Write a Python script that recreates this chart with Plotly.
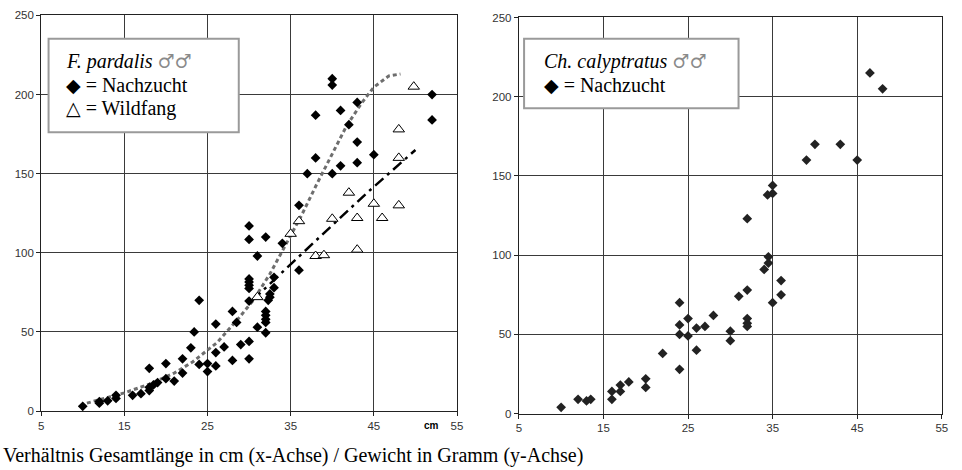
import plotly.graph_objects as go

# ---------------- data ----------------
# F. pardalis, Nachzucht (captive bred)
pard_nz_len = [10, 12, 12, 13, 14, 14, 16, 17, 18, 18, 18.5, 19, 18, 20, 20, 21, 22, 22, 23, 23.4,
               24, 24, 25, 25, 26, 26, 26, 27, 28, 28, 28.5, 29, 30, 30, 30, 30, 30, 30, 30, 30,
               30, 31, 31, 32, 32, 32, 32, 32, 32.3, 32.5, 32.5, 33, 33, 32, 34, 36, 36, 37, 38, 38,
               40, 40, 40, 41, 41, 42, 43, 43, 43, 45, 52, 52]
pard_nz_wt = [3, 5, 6, 6.5, 8, 10, 10, 11, 13, 15, 16.5, 18, 27, 20.5, 30, 19, 24, 33, 40, 50,
              70, 29.5, 25, 30, 28.5, 37, 55, 40.5, 32, 63, 56, 42, 44, 33, 69.5, 77.5, 79.5, 81.5, 83.5, 108.5,
              117, 53, 98, 49.5, 56, 58, 60.5, 63, 70, 72, 74, 78, 84.5, 110, 106, 89, 130, 150, 160, 187,
              150, 206, 210, 155, 190, 181, 157, 170, 195, 162, 184, 200]

# F. pardalis, Wildfang (wild caught)
pard_wf_len = [31, 35, 36, 38, 39, 40, 42, 43, 43, 45, 46, 48, 48, 48, 49.8]
pard_wf_wt = [72, 112, 120, 98, 98.5, 121.5, 138, 102, 122, 131, 122, 130, 160, 178, 205]

# trend lines
pard_nz_trend_len = [10.5, 13, 15, 18, 21, 23.2, 26.2, 28.8, 30.5, 32.5, 34, 36.3, 38.1, 40.1, 41.7,
                     43.5, 45, 46.8, 48.2]
pard_nz_trend_wt = [5, 8.5, 11.5, 17, 24, 31, 43.5, 59, 70, 86.6, 101, 123.6, 143, 163.6, 180,
                    194.4, 204.7, 211.8, 213]
pard_wf_trend_len = [30.4, 34.5, 38.9, 44.2, 50]
pard_wf_trend_wt = [70, 90, 112, 138, 165]

# Ch. calyptratus, Nachzucht
caly_len = [10, 12, 13, 13.5, 16, 16, 17, 17, 18, 20, 20, 22, 24, 24, 24, 24, 25, 25, 26, 27,
            26, 28, 30, 30, 31, 32, 32, 32, 32, 32, 34, 34.5, 34.5, 34.4, 35, 35, 35, 36, 36, 39,
            40, 43, 45, 46.5, 48]
caly_wt = [4, 9, 8, 9, 9, 14, 14, 18, 20, 22, 16.5, 38, 70, 56, 50, 28, 60, 49, 54, 55,
           40, 62, 52, 46, 74, 78, 60, 57, 55, 123, 91, 95, 99, 138, 139, 144, 70, 84, 75, 160,
           170, 170, 160, 215, 205]

x_ticks = [5, 15, 25, 35, 45, 55]
y_ticks = [0, 50, 100, 150, 200, 250]

caption = "Verhältnis Gesamtlänge in cm (x-Achse) / Gewicht in Gramm (y-Achse)"

# ---------------- figure ----------------
W, H = 962, 470
fig = go.Figure()

fig.add_trace(go.Scatter(x=pard_nz_trend_len, y=pard_nz_trend_wt, mode="lines",
                         line=dict(color="#6e6e6e", width=3, dash="4px,3px"),
                         xaxis="x", yaxis="y", hoverinfo="skip"))
fig.add_trace(go.Scatter(x=pard_wf_trend_len, y=pard_wf_trend_wt, mode="lines",
                         line=dict(color="black", width=2.5, dash="11px,5px,3px,5px"),
                         xaxis="x", yaxis="y", hoverinfo="skip"))
fig.add_trace(go.Scatter(x=pard_nz_len, y=pard_nz_wt, mode="markers",
                         marker=dict(symbol="diamond", size=7.5, color="black"),
                         xaxis="x", yaxis="y"))
fig.add_trace(go.Scatter(x=pard_wf_len, y=pard_wf_wt, mode="markers",
                         marker=dict(symbol="triangle-up", size=10, color="white",
                                     line=dict(color="black", width=1)),
                         xaxis="x", yaxis="y"))
fig.add_trace(go.Scatter(x=caly_len, y=caly_wt, mode="markers",
                         marker=dict(symbol="diamond", size=7.5, color="#222222"),
                         xaxis="x2", yaxis="y2"))

def px2x(p):
    return p / W

def py2y(p):
    return 1 - p / H

axis_common = dict(showgrid=True, gridcolor="#3a3a3a", gridwidth=1, showline=True,
                   linecolor="#222", linewidth=1, mirror=True, ticks="outside", ticklen=4,
                   tickcolor="#222", zeroline=False,
                   tickfont=dict(family="Liberation Sans, Arial", size=11.5, color="#333"))

fig.update_layout(
    width=W, height=H, margin=dict(l=0, r=0, t=0, b=0),
    paper_bgcolor="white", plot_bgcolor="white", showlegend=False,
    xaxis=dict(domain=[px2x(38.5), px2x(458.3)], range=[5, 55], tickvals=x_ticks,
               anchor="y", **axis_common),
    yaxis=dict(domain=[py2y(415.7), py2y(9.7)], range=[0, 250], tickvals=y_ticks,
               anchor="x", **axis_common),
    xaxis2=dict(domain=[px2x(520.7), px2x(947.7)], range=[5, 55], tickvals=x_ticks,
                anchor="y2", **axis_common),
    yaxis2=dict(domain=[py2y(418.3), py2y(11.8)], range=[0, 250], tickvals=y_ticks,
                anchor="x2", **axis_common),
)

# legend boxes
fig.add_shape(type="rect", xref="paper", yref="paper", x0=px2x(46), x1=px2x(238),
              y0=py2y(129.5), y1=py2y(33.5), line=dict(color="#9a9a9a", width=2),
              fillcolor="white", layer="above")
fig.add_shape(type="rect", xref="paper", yref="paper", x0=px2x(526), x1=px2x(742.5),
              y0=py2y(105), y1=py2y(33.5), line=dict(color="#9a9a9a", width=2),
              fillcolor="white", layer="above")

serif = "Liberation Serif, Times New Roman, serif"
male = ("<span style='color:#8a8a8a;font-family:DejaVu Serif;font-size:19px'>"
        "♂♂</span>")
diam = "<span style='font-family:DejaVu Sans;font-size:19px'>◆</span>"
tri = "<span style='font-family:DejaVu Sans;font-size:19px'>△</span>"

def txt(x, y, s, size=19, family=serif, **kw):
    fig.add_annotation(xref="paper", yref="paper", x=px2x(x), y=py2y(y), text=s,
                       showarrow=False, xanchor="left", yanchor="middle",
                       font=dict(family=family, size=size, color="black"), **kw)

txt(62, 57, "<i>F. pardalis</i> " + male, size=20)
txt(62, 81, diam + " = Nachzucht", size=20)
txt(62, 105, tri + " = Wildfang", size=20)

txt(544, 57, "<i>Ch. calyptratus</i> " + male, size=20)
txt(544, 81, diam + " = Nachzucht", size=20)

txt(423, 430, "<b>cm</b>", size=10, family="Liberation Sans, Arial")
txt(-2, 461, caption, size=20)

fig.write_html("out.html")
